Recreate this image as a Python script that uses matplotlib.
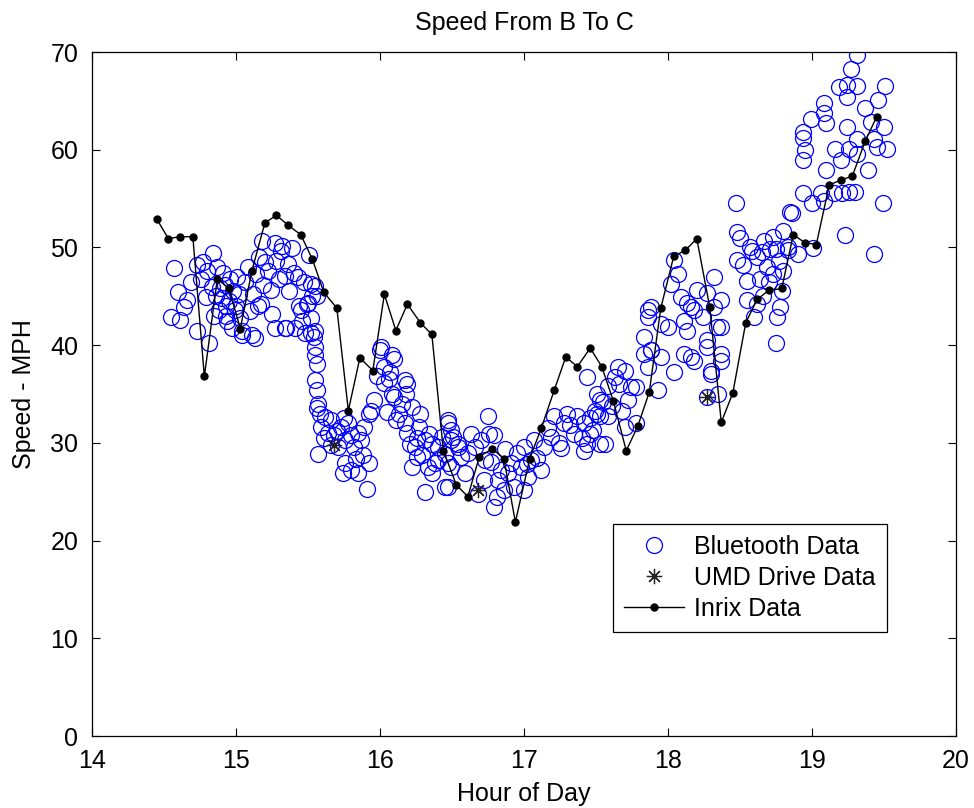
import matplotlib
matplotlib.use("Agg")
import matplotlib.pyplot as plt

plt.rcParams['font.family'] = ['Liberation Sans', 'DejaVu Sans']

# =======================
# Data
# =======================
# Bluetooth travel-speed samples (hour of day, mph)
bt_hour = [
    # 14.5 - 15.0
    14.57, 14.60, 14.55, 14.61, 14.64, 14.69, 14.73, 14.76, 14.73, 14.81, 14.84, 14.79,
    14.66, 14.77, 14.80, 14.83, 14.86, 14.88, 14.90, 14.92, 14.93, 14.95, 14.96, 14.98,
    14.99, 14.91, 14.85, 14.87, 14.94, 15.00, 14.97, 15.01, 14.89, 14.93, 15.02, 15.03, 15.04,
    # 15.0 - 15.55
    15.04, 15.11, 15.13, 15.06, 15.08, 15.10, 15.12, 15.14, 15.16, 15.18, 15.20, 15.22,
    15.24, 15.25, 15.27, 15.28, 15.30, 15.31, 15.32, 15.34, 15.34, 15.36, 15.37, 15.39,
    15.40, 15.41, 15.43, 15.44, 15.46, 15.47, 15.48, 15.50, 15.51, 15.52, 15.52, 15.53,
    15.54, 15.27, 15.19, 15.15, 15.17, 15.35, 15.45, 15.49, 15.52, 15.55, 15.56,
    # descent
    15.55, 15.56, 15.55, 15.56, 15.57, 15.56, 15.55, 15.55, 15.58,
    # 15.55 - 15.95
    15.62, 15.66, 15.59, 15.64, 15.68, 15.73, 15.78, 15.80, 15.76, 15.85, 15.87, 15.89,
    15.92, 15.57, 15.71, 15.82, 15.76, 15.80, 15.85, 15.92, 15.91, 15.74, 15.70, 15.66,
    15.61, 15.83, 15.75, 15.88,
    # 15.95 - 16.5
    15.94, 15.96, 16.00, 16.01, 16.08, 16.10, 16.03, 16.07, 16.03, 16.06, 16.08, 16.10,
    16.17, 16.19, 16.18, 16.15, 16.13, 16.11, 16.17, 16.22, 16.28, 16.19, 16.21, 16.24,
    16.26, 16.31, 16.36, 16.40, 16.45, 16.47, 16.49, 16.51, 16.54, 16.22, 16.26, 16.33,
    16.40, 16.31, 16.45, 16.36, 16.49, 16.29, 16.34, 16.38, 16.43, 16.27, 15.98, 16.05,
    # 16.5 - 17.6
    16.47, 16.49, 16.54, 16.56, 16.47, 16.47, 16.59, 16.63, 16.66, 16.70, 16.75, 16.76,
    16.79, 16.73, 16.77, 16.68, 16.79, 16.82, 16.84, 16.86, 16.89, 16.91, 16.93, 16.98,
    17.00, 17.03, 17.00, 17.05, 17.07, 17.12, 17.14, 17.19, 17.21, 17.24, 17.28, 17.30,
    17.35, 17.37, 17.42, 17.44, 17.48, 17.51, 17.53, 17.56, 17.58, 16.61, 16.72, 16.95,
    17.02, 17.09, 17.17, 17.26, 17.32, 17.40, 17.46, 16.87, 16.81,
    # 17.4 - 18.4
    17.44, 17.51, 17.55, 17.49, 17.53, 17.46, 17.53, 17.42, 17.63, 17.65, 17.70, 17.74,
    17.72, 17.68, 17.61, 17.70, 17.78, 17.86, 17.88, 17.83, 17.93, 17.78, 17.83, 17.86,
    17.88, 18.00, 18.04, 18.11, 18.16, 18.11, 18.18, 18.27, 18.30, 18.37, 18.32, 18.37,
    18.35, 18.27, 18.04, 18.07, 18.02, 17.86, 17.95, 17.88, 17.95, 18.09, 18.13, 18.18,
    18.20, 18.27, 18.24, 18.34, 18.37, 18.13, 18.16, 18.27, 18.37, 18.30, 18.32, 17.66, 17.58,
    # 18.45 - 19.0
    18.47, 18.48, 18.50, 18.57, 18.67, 18.73, 18.75, 18.62, 18.69, 18.73, 18.77, 18.83,
    18.90, 18.48, 18.55, 18.64, 18.70, 18.55, 18.62, 18.60, 18.78, 18.76, 18.75, 18.85,
    18.80, 18.83, 18.80, 18.52, 18.58, 18.65, 18.71, 18.79, 18.66,
    # 18.9 - 19.55
    19.31, 19.27, 19.19, 19.24, 19.31, 19.24, 19.51, 19.46, 19.37, 19.08, 19.08, 19.10,
    18.99, 18.94, 18.94, 18.95, 18.94, 19.24, 19.41, 19.50, 19.31, 19.43, 19.16, 19.26,
    19.31, 19.45, 19.52, 19.20, 19.10, 19.39, 18.94, 19.00, 19.06, 19.08, 19.15, 19.21,
    19.26, 19.30, 19.49, 18.86, 19.23, 19.43, 19.01,
]
bt_mph = [
    # 14.5 - 15.0
    47.9, 45.4, 42.9, 42.6, 43.9, 46.5, 48.2, 46.8, 41.5, 40.2, 49.4, 44.9,
    44.6, 48.5, 47.6, 46.0, 45.0, 43.6, 44.8, 46.2, 43.0, 44.5, 46.8, 45.5,
    43.6, 47.4, 43.0, 48.0, 42.5, 44.0, 41.8, 47.0, 45.8, 44.0, 45.2, 42.8, 41.0,
    # 15.0 - 15.55
    41.5, 41.0, 40.7, 46.5, 48.0, 43.5, 45.2, 47.3, 49.0, 50.7, 48.5, 47.6,
    45.6, 43.2, 50.5, 48.6, 46.8, 49.6, 50.2, 47.1, 41.8, 48.3, 45.5, 49.9,
    47.4, 41.8, 47.0, 44.0, 42.5, 46.5, 41.2, 44.3, 49.2, 46.3, 42.8, 45.0,
    40.8, 41.8, 46.2, 44.0, 44.2, 41.8, 43.6, 44.2, 41.2, 46.1, 45.0,
    # descent
    39.0, 38.1, 36.4, 35.4, 34.0, 33.6, 41.5, 39.8, 33.0,
    # 15.55 - 15.95
    32.6, 32.3, 31.6, 31.0, 30.8, 31.6, 32.0, 30.8, 30.3, 31.0, 30.3, 31.6,
    33.0, 28.9, 29.6, 29.6, 27.9, 27.2, 26.9, 27.9, 25.3, 26.9, 31.2, 29.8,
    30.5, 28.4, 32.5, 28.8,
    # 15.95 - 16.5
    33.3, 34.4, 39.5, 39.8, 39.0, 38.6, 37.8, 37.3, 36.1, 36.5, 35.0, 34.7,
    36.4, 36.0, 35.0, 34.0, 33.0, 32.3, 32.0, 33.7, 33.0, 31.0, 29.9, 29.6,
    30.5, 30.3, 29.9, 29.6, 28.9, 32.0, 31.3, 30.6, 29.9, 27.5, 28.6, 27.5,
    28.2, 25.0, 25.5, 26.9, 27.5, 28.8, 30.9, 27.9, 30.6, 31.6, 36.8, 33.2,
    # 16.5 - 17.6
    32.3, 30.3, 29.6, 28.6, 27.9, 25.5, 26.9, 30.9, 29.6, 30.3, 32.7, 30.9,
    30.8, 28.2, 28.0, 24.8, 23.4, 26.2, 27.2, 25.2, 26.9, 27.9, 25.5, 27.5,
    25.2, 26.5, 29.6, 28.2, 30.3, 27.2, 29.6, 30.6, 32.7, 30.0, 32.0, 33.0,
    30.9, 32.7, 32.0, 29.9, 31.3, 33.0, 34.4, 29.9, 32.7, 29.0, 26.2, 29.0,
    27.8, 28.5, 31.5, 29.5, 31.8, 30.5, 32.5, 29.4, 24.5,
    # 17.4 - 18.4
    36.7, 35.0, 34.2, 33.3, 32.7, 30.9, 29.9, 29.2, 36.7, 37.8, 37.4, 35.7,
    34.4, 33.3, 33.8, 31.6, 35.7, 37.8, 39.5, 39.1, 35.4, 32.0, 40.8, 42.9,
    43.9, 41.9, 37.3, 42.5, 43.9, 39.1, 38.4, 40.5, 37.4, 39.1, 43.9, 41.9,
    35.0, 34.7, 48.7, 47.3, 46.3, 43.6, 42.2, 39.5, 38.8, 44.9, 44.3, 43.6,
    45.6, 45.3, 42.9, 41.9, 44.6, 41.5, 38.8, 39.8, 38.4, 37.1, 47.0, 36.0, 35.8,
    # 18.45 - 19.0
    54.5, 51.6, 51.0, 50.0, 50.7, 51.1, 49.8, 49.0, 48.0, 47.3, 48.6, 49.7,
    49.3, 48.7, 46.6, 46.8, 46.5, 44.6, 44.2, 42.9, 43.9, 42.9, 40.2, 53.6,
    51.7, 50.0, 47.6, 48.2, 49.6, 49.5, 49.8, 45.5, 45.0,
    # 18.9 - 19.55
    69.7, 68.3, 66.4, 66.6, 66.5, 65.4, 66.5, 65.1, 64.3, 64.8, 63.8, 62.7,
    63.1, 61.8, 61.2, 60.0, 59.0, 62.3, 62.8, 62.3, 61.1, 61.1, 60.1, 60.1,
    59.6, 60.3, 60.1, 58.9, 57.9, 57.9, 55.6, 54.6, 55.6, 54.8, 55.6, 55.6,
    55.7, 55.7, 54.5, 53.5, 51.3, 49.3, 49.9,
]

# UMD probe-vehicle runs
umd_hour = [15.68, 16.68, 18.27]
umd_mph = [29.8, 25.2, 34.7]

# Inrix feed (5-minute samples)
inrix_hour = [
    14.45, 14.53, 14.61, 14.70, 14.78, 14.87, 14.95, 15.03, 15.11, 15.20, 15.28, 15.36,
    15.45, 15.53, 15.61, 15.70, 15.78, 15.86, 15.95, 16.03, 16.11, 16.19, 16.28, 16.36,
    16.44, 16.53, 16.61, 16.69, 16.78, 16.86, 16.94, 17.04, 17.12, 17.21, 17.29, 17.37,
    17.46, 17.54, 17.62, 17.71, 17.79, 17.87, 17.95, 18.04, 18.12, 18.20, 18.29, 18.37,
    18.45, 18.54, 18.62, 18.70, 18.79, 18.87, 18.95, 19.03, 19.12, 19.20, 19.28, 19.37,
    19.45,
]
inrix_mph = [
    52.9, 50.9, 51.1, 51.1, 36.8, 46.8, 45.8, 41.7, 47.6, 52.5, 53.3, 52.3,
    51.3, 48.8, 45.4, 43.8, 33.3, 38.7, 37.4, 45.2, 41.5, 44.2, 42.3, 41.1,
    29.2, 25.7, 24.5, 28.6, 29.4, 28.4, 21.9, 28.4, 31.5, 35.4, 38.8, 37.8,
    39.7, 37.8, 34.3, 29.2, 31.7, 35.2, 43.8, 49.1, 49.7, 50.9, 43.9, 32.1,
    35.1, 42.3, 44.7, 45.6, 45.8, 51.3, 50.5, 50.3, 56.4, 56.9, 57.3, 60.9,
    63.4,
]

# =======================
# Plot
# =======================
fig = plt.figure(figsize=(9.74, 8.08), dpi=100)
ax = fig.add_axes([0.0945, 0.0891, 0.887, 0.8465])

ax.plot(bt_hour, bt_mph, linestyle='none', marker='o', markersize=11.5,
        markerfacecolor='none', markeredgecolor='#0000ff', markeredgewidth=0.9,
        label='Bluetooth Data')
ax.plot(umd_hour, umd_mph, linestyle='none', marker=(8, 2, 0), markersize=11,
        color='#222222', markeredgewidth=0.9, label='UMD Drive Data')
ax.plot(inrix_hour, inrix_mph, color='black', linewidth=1.0, marker='o',
        markersize=5, label='Inrix Data')

ax.set_xlim(14, 20)
ax.set_ylim(0, 70)
ax.set_xticks(range(14, 21))
ax.set_yticks(range(0, 71, 10))
ax.tick_params(direction='in', length=6, width=0.8, top=True, right=True,
               labelsize=18)
ax.tick_params(axis='x', pad=9)
ax.tick_params(axis='y', pad=10)
for s in ax.spines.values():
    s.set_linewidth(0.9)

ax.set_title('Speed From B To C', fontsize=18, pad=16)
ax.set_xlabel('Hour of Day', fontsize=18, labelpad=7)
ax.set_ylabel('Speed - MPH', fontsize=18, labelpad=10)

leg = ax.legend(loc='lower left', bbox_to_anchor=(0.603, 0.152), borderaxespad=0,
                fontsize=18, fancybox=False, edgecolor='black', framealpha=1,
                handlelength=2.4, handletextpad=0.4, borderpad=0.45, labelspacing=0.28)
leg.get_frame().set_linewidth(0.9)

fig.savefig('out.png', dpi=100)
